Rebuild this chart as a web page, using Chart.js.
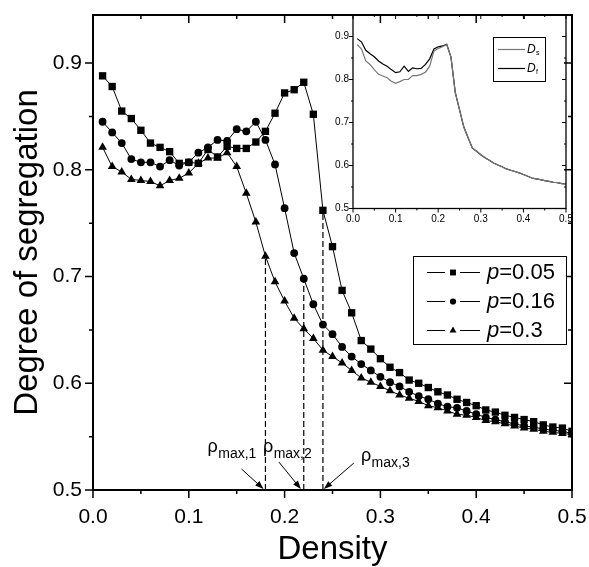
<!DOCTYPE html>
<html>
<head>
<meta charset="utf-8">
<script src="https://cdn.jsdelivr.net/npm/chart.js@4.4.0/dist/chart.umd.min.js"></script>
<style>
html, body { margin: 0; padding: 0; background: #fff; }
#wrap { position: relative; width: 589px; height: 567px; }
#main { position: absolute; left: 0; top: 0; }
#inset { position: absolute; left: 300px; top: 0; }
</style>
</head>
<body>
<div id="wrap">
<canvas id="main" width="589" height="567"></canvas>
<canvas id="inset" width="280" height="235"></canvas>
</div>
<script>
// densities (x values)
var density = [0.01,0.02,0.03,0.04,0.05,0.06,0.07,0.08,0.09,0.10,
               0.11,0.12,0.13,0.14,0.15,0.16,0.17,0.18,0.19,0.20,
               0.21,0.22,0.23,0.24,0.25,0.26,0.27,0.28,0.29,0.30,
               0.31,0.32,0.33,0.34,0.35,0.36,0.37,0.38,0.39,0.40,
               0.41,0.42,0.43,0.44,0.45,0.46,0.47,0.48,0.49,0.50];

// degree of segregation, p = 0.05 (squares)
var segP005 = [0.888,0.878,0.855,0.848,0.837,0.825,0.821,0.817,0.806,0.807,
               0.806,0.819,0.812,0.822,0.820,0.820,0.826,0.836,0.853,0.872,
               0.875,0.882,0.852,0.762,0.728,0.687,0.666,0.640,0.632,0.623,
               0.615,0.610,0.603,0.600,0.596,0.592,0.589,0.585,0.582,0.579,
               0.575,0.573,0.570,0.568,0.566,0.564,0.561,0.559,0.558,0.555];
// p = 0.16 (circles)
var segP016 = [0.845,0.835,0.825,0.810,0.807,0.807,0.803,0.809,0.804,0.807,
               0.816,0.821,0.828,0.827,0.838,0.836,0.845,0.828,0.805,0.764,
               0.722,0.698,0.674,0.655,0.646,0.634,0.625,0.618,0.612,0.606,
               0.601,0.597,0.592,0.588,0.585,0.581,0.578,0.577,0.574,0.571,
               0.568,0.566,0.564,0.562,0.560,0.559,0.557,0.556,0.555,0.553];
// p = 0.3 (triangles)
var segP03 = [0.821,0.803,0.798,0.791,0.790,0.789,0.785,0.790,0.792,0.797,
              0.806,0.811,0.811,0.816,0.803,0.778,0.751,0.719,0.695,0.677,
              0.661,0.651,0.642,0.631,0.625,0.619,0.612,0.605,0.601,0.597,
              0.593,0.589,0.586,0.583,0.579,0.577,0.574,0.571,0.570,0.568,
              0.565,0.564,0.562,0.560,0.558,0.557,0.555,0.554,0.553,0.552];

var pValues = ['0.05', '0.16', '0.3'];

// rho_max positions (dashed lines) and arrow tips
var rhoMax = [0.18, 0.22, 0.24];
var rhoTop = [segP03[17], segP016[21], segP005[23]];
var arrowTip = [0.178, 0.217, 0.241];
var rhoNames = ['max,1', 'max,2', 'max,3'];

// inset: Ds and Df
var insetDs = [0.881,0.871,0.843,0.835,0.823,0.812,0.808,0.804,0.796,0.791,
               0.795,0.800,0.800,0.809,0.809,0.812,0.817,0.831,0.866,0.872,
               0.876,0.881,0.852,0.770,0.730,0.690,0.665,0.641,0.633,0.625,
               0.618,0.612,0.606,0.601,0.597,0.592,0.589,0.586,0.583,0.579,
               0.575,0.571,0.569,0.567,0.565,0.563,0.561,0.560,0.558,0.557];
var insetDf = [0.895,0.887,0.868,0.860,0.853,0.843,0.836,0.831,0.823,0.816,
               0.818,0.831,0.819,0.827,0.825,0.826,0.835,0.848,0.871,0.876,
               0.878,0.882,0.852,0.770,0.730,0.690,0.665,0.641,0.633,0.625,
               0.618,0.612,0.606,0.601,0.597,0.592,0.589,0.586,0.583,0.579,
               0.575,0.571,0.569,0.567,0.565,0.563,0.561,0.560,0.558,0.557];

var fam = '"Liberation Sans", Arial, Helvetica, sans-serif';

function isMajor(v) { return Math.abs(v * 10 - Math.round(v * 10)) < 1e-6; }
function majorLabel(v) { return isMajor(v) ? v.toFixed(1) : ''; }
function xy(ys) { return density.map(function (d, i) { return {x: d, y: ys[i]}; }); }
function noPad(s) { s.paddingLeft = 0; s.paddingRight = 0; s.paddingTop = 0; s.paddingBottom = 0; }

// box frame, ticks out on left/bottom, in on top/right
var framePlugin = {
  id: 'frame',
  afterDraw: function (chart, args, o) {
    var ctx = chart.ctx, a = chart.chartArea, sx = chart.scales.x, sy = chart.scales.y;
    ctx.save();
    ctx.strokeStyle = '#000';
    ctx.lineWidth = o.width;
    ctx.strokeRect(a.left, a.top, a.right - a.left, a.bottom - a.top);
    ctx.lineWidth = o.tickWidth;
    ctx.beginPath();
    sx.ticks.forEach(function (t) {
      var px = sx.getPixelForValue(t.value), len = isMajor(t.value) ? o.major : o.minor;
      ctx.moveTo(px, a.bottom); ctx.lineTo(px, a.bottom + len);
      ctx.moveTo(px, a.top); ctx.lineTo(px, a.top + len);
    });
    sy.ticks.forEach(function (t) {
      var py = sy.getPixelForValue(t.value), len = isMajor(t.value) ? o.major : o.minor;
      ctx.moveTo(a.left, py); ctx.lineTo(a.left - len, py);
      ctx.moveTo(a.right, py); ctx.lineTo(a.right - len, py);
    });
    ctx.stroke();
    ctx.restore();
  }
};

function arrow(ctx, x0, y0, x1, y1, head) {
  var ang = Math.atan2(y1 - y0, x1 - x0);
  ctx.beginPath();
  ctx.moveTo(x0, y0);
  ctx.lineTo(x1 - Math.cos(ang) * head * 0.8, y1 - Math.sin(ang) * head * 0.8);
  ctx.stroke();
  ctx.beginPath();
  ctx.moveTo(x1, y1);
  ctx.lineTo(x1 - head * Math.cos(ang - 0.35), y1 - head * Math.sin(ang - 0.35));
  ctx.lineTo(x1 - head * Math.cos(ang + 0.35), y1 - head * Math.sin(ang + 0.35));
  ctx.closePath();
  ctx.fill();
}

// rho_max arrows and labels
var rhoPlugin = {
  id: 'rho',
  afterDatasetsDraw: function (chart) {
    var ctx = chart.ctx, sx = chart.scales.x, sy = chart.scales.y;
    var base = sy.getPixelForValue(0.5);
    var tails = [[-22, -21], [-22, -28], [30, -27]];
    var lab = [[-56, -38], [-38, -38], [37, -29]];
    ctx.save();
    ctx.strokeStyle = '#000'; ctx.fillStyle = '#000'; ctx.lineWidth = 1;
    arrowTip.forEach(function (v, i) {
      var px = sx.getPixelForValue(v);
      arrow(ctx, px + tails[i][0], base + tails[i][1], px, base - 1, 9);
      var lx = px + lab[i][0], ly = base + lab[i][1];
      ctx.font = '18px ' + fam;
      ctx.textBaseline = 'alphabetic'; ctx.textAlign = 'left';
      ctx.fillText('\u03c1', lx, ly);
      var w = ctx.measureText('\u03c1').width;
      ctx.font = '14px ' + fam;
      ctx.fillText(rhoNames[i], lx + w + 0.5, ly + 6);
    });
    ctx.restore();
  }
};

var legendPlugin = {
  id: 'boxLegend',
  afterDraw: function (chart) {
    var ctx = chart.ctx;
    var bx = 413, by = 256, bw = 153, bh = 88;
    ctx.save();
    ctx.fillStyle = '#fff';
    ctx.fillRect(bx, by, bw, bh);
    ctx.strokeStyle = '#000'; ctx.lineWidth = 1;
    ctx.strokeRect(bx + 0.5, by + 0.5, bw, bh);
    for (var i = 0; i < 3; i++) {
      var ds = chart.data.datasets[i];
      var y = by + 16 + i * 29;
      ctx.strokeStyle = '#000'; ctx.lineWidth = 1;
      ctx.beginPath();
      ctx.moveTo(bx + 14, y + 0.5); ctx.lineTo(bx + 32, y + 0.5);
      ctx.moveTo(bx + 47, y + 0.5); ctx.lineTo(bx + 67, y + 0.5);
      ctx.stroke();
      ctx.fillStyle = '#000';
      Chart.helpers.drawPoint(ctx, {pointStyle: ds.pointStyle, radius: ds.pointRadius * 0.8, rotation: 0, borderWidth: 0}, bx + 40, y + 0.5);
      ctx.textBaseline = 'middle'; ctx.textAlign = 'left';
      ctx.font = 'italic 22px ' + fam;
      ctx.fillText('p', bx + 74, y + 1);
      var w = ctx.measureText('p').width;
      ctx.font = '22px ' + fam;
      ctx.fillText('=' + pValues[i], bx + 74 + w, y + 1);
    }
    ctx.restore();
  }
};

function seriesSet(label, ys, style, r) {
  return {
    label: label, data: xy(ys), borderColor: '#000', borderWidth: 1,
    pointStyle: style, pointRadius: r, pointBackgroundColor: '#000',
    pointBorderWidth: 0, tension: 0
  };
}
function dashSet(i) {
  return {
    label: 'rho' + i, data: [{x: rhoMax[i], y: 0.5}, {x: rhoMax[i], y: rhoTop[i]}],
    borderColor: '#000', borderWidth: 1.2, borderDash: [6, 3], pointRadius: 0
  };
}

var mainChart = new Chart(document.getElementById('main'), {
  type: 'line',
  data: {
    datasets: [
      seriesSet('p=0.05', segP005, 'rect', 5.2),
      seriesSet('p=0.16', segP016, 'circle', 3.9),
      seriesSet('p=0.3', segP03, 'triangle', 5),
      dashSet(0), dashSet(1), dashSet(2)
    ]
  },
  options: {
    responsive: false, animation: false, devicePixelRatio: 1,
    layout: {padding: {top: 15, right: 17, left: 0, bottom: 0}},
    plugins: {
      legend: {display: false}, tooltip: {enabled: false},
      frame: {width: 2, tickWidth: 1.5, major: 8, minor: 4}
    },
    scales: {
      x: {
        type: 'linear', min: 0, max: 0.5,
        grid: {display: false, drawTicks: false}, border: {display: false},
        ticks: {stepSize: 0.05, includeBounds: false, autoSkip: false, maxRotation: 0, padding: 15,
                color: '#000', font: {family: fam, size: 21}, callback: majorLabel},
        title: {display: true, text: 'Density', color: '#000',
                font: {family: fam, size: 33, lineHeight: 1}, padding: {top: 0, bottom: 1}},
        afterFit: function (s) { s.height = 77; noPad(s); }
      },
      y: {
        type: 'linear', min: 0.5, max: 0.945,
        grid: {display: false, drawTicks: false}, border: {display: false},
        ticks: {stepSize: 0.05, includeBounds: false, autoSkip: false, padding: 11,
                color: '#000', font: {family: fam, size: 21}, callback: majorLabel},
        title: {display: true, text: 'Degree of segregation', color: '#000',
                font: {family: fam, size: 33, lineHeight: 1}, padding: {top: 11, bottom: 0}},
        afterFit: function (s) { s.width = 93; noPad(s); }
      }
    }
  },
  plugins: [framePlugin, rhoPlugin, legendPlugin]
});

var insetLegend = {
  id: 'insetLegend',
  afterDraw: function (chart) {
    var ctx = chart.ctx;
    var bx = 193, by = 37, bw = 52, bh = 44;
    ctx.save();
    ctx.fillStyle = '#fff';
    ctx.fillRect(bx, by, bw, bh);
    ctx.strokeStyle = '#000'; ctx.lineWidth = 1;
    ctx.strokeRect(bx + 0.5, by + 0.5, bw, bh);
    var subs = ['s', 'f'];
    for (var i = 0; i < 2; i++) {
      var ds = chart.data.datasets[i];
      var y = by + 12.5 + i * 19;
      ctx.strokeStyle = ds.borderColor; ctx.lineWidth = 1.2;
      ctx.beginPath(); ctx.moveTo(bx + 5, y); ctx.lineTo(bx + 32, y); ctx.stroke();
      ctx.fillStyle = '#000';
      ctx.textBaseline = 'middle'; ctx.textAlign = 'left';
      ctx.font = 'italic 12px ' + fam;
      ctx.fillText('D', bx + 34, y);
      ctx.font = '7px ' + fam;
      ctx.fillText(subs[i], bx + 43, y + 4);
    }
    ctx.restore();
  }
};

var insetChart = new Chart(document.getElementById('inset'), {
  type: 'line',
  data: {
    datasets: [
      {label: 'Ds', data: xy(insetDs), borderColor: '#777', borderWidth: 1.2, pointRadius: 0, tension: 0},
      {label: 'Df', data: xy(insetDf), borderColor: '#000', borderWidth: 1.2, pointRadius: 0, tension: 0}
    ]
  },
  options: {
    responsive: false, animation: false, devicePixelRatio: 1,
    layout: {padding: {top: 15, right: 14, left: 0, bottom: 0}},
    plugins: {
      legend: {display: false}, tooltip: {enabled: false},
      frame: {width: 1.3, tickWidth: 1, major: 4, minor: 2}
    },
    scales: {
      x: {
        type: 'linear', min: 0, max: 0.5,
        grid: {display: false, drawTicks: false}, border: {display: false},
        ticks: {stepSize: 0.05, includeBounds: false, autoSkip: false, maxRotation: 0, padding: 5,
                color: '#000', font: {family: fam, size: 10}, callback: majorLabel},
        afterFit: function (s) { s.height = 26.5; noPad(s); }
      },
      y: {
        type: 'linear', min: 0.5, max: 0.95,
        grid: {display: false, drawTicks: false}, border: {display: false},
        ticks: {stepSize: 0.05, includeBounds: false, autoSkip: false, padding: 4,
                color: '#000', font: {family: fam, size: 10}, callback: majorLabel},
        afterFit: function (s) { s.width = 53; noPad(s); }
      }
    }
  },
  plugins: [framePlugin, insetLegend]
});
</script>
</body>
</html>
